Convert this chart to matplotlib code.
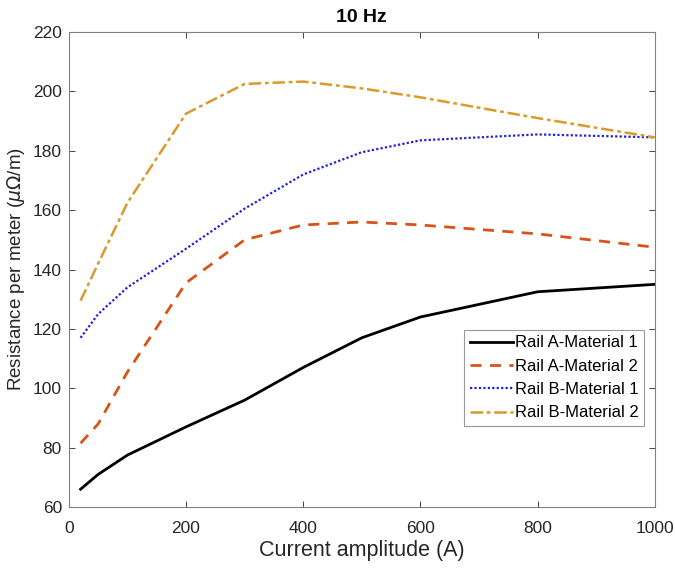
import matplotlib
matplotlib.use("Agg")
import matplotlib.pyplot as plt

plt.rcParams['font.family'] = ['Liberation Sans', 'DejaVu Sans']

current = [20, 50, 100, 200, 300, 400, 500, 600, 800, 1000]
rail_a_mat1 = [66, 71, 77.5, 87, 96, 107, 117, 124, 132.5, 135]
rail_a_mat2 = [81.5, 88, 105.5, 135.5, 150, 155, 156, 155, 152, 147.5]
rail_b_mat1 = [117, 125, 134, 147, 160.5, 172, 179.5, 183.5, 185.5, 184.5]
rail_b_mat2 = [129.5, 142, 162.5, 192.5, 202.5, 203.3, 201, 198, 191, 184.5]
labels = ["Rail A-Material 1", "Rail A-Material 2", "Rail B-Material 1", "Rail B-Material 2"]

fig = plt.figure(figsize=(6.75, 5.71), dpi=100)
ax = fig.add_axes([0.102, 0.112, 0.868, 0.832])

ax.plot(current, rail_a_mat1, color="black", lw=2, ls="-", label=labels[0])
ax.plot(current, rail_a_mat2, color="#D95319", lw=2, ls=(0, (4, 3)), label=labels[1])
ax.plot(current, rail_b_mat1, color="#2020E0", lw=1.6, ls=(0, (1, 1)), label=labels[2])
ax.plot(current, rail_b_mat2, color="#D99A2B", lw=1.8, ls=(0, (5, 1.5, 1.5, 1.5)), label=labels[3])

ax.set_xlim(0, 1000)
ax.set_ylim(60, 220)
ax.set_xticks(range(0, 1001, 200))
ax.set_yticks(range(60, 221, 20))
ax.tick_params(direction="in", top=True, right=True, labelsize=12.5,
               colors="#262626", length=4, width=0.6)
ax.tick_params(axis="x", pad=10)
ax.tick_params(axis="y", pad=5)
for s in ax.spines.values():
    s.set_color("#808080")
    s.set_linewidth(0.8)

ax.set_xlabel("Current amplitude (A)", fontsize=15.5, color="#262626", labelpad=3)
ax.set_ylabel(r"Resistance per meter ($\mu\Omega$/m)", fontsize=13.5, color="#262626")
ax.set_title("10 Hz", fontsize=14, fontweight="bold", pad=7)

leg = ax.legend(loc="lower right", bbox_to_anchor=(0.982, 0.17), fontsize=12,
                frameon=True, fancybox=False, edgecolor="#808080",
                handlelength=2.6, handletextpad=0.1, borderpad=0.35,
                labelspacing=0.5, borderaxespad=0)
leg.get_frame().set_linewidth(0.8)

fig.savefig("out.png", dpi=100)
